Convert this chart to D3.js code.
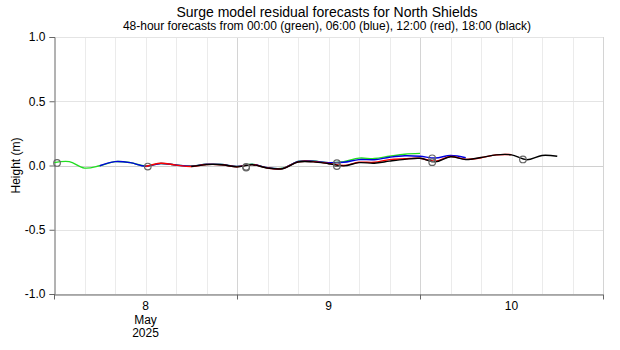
<!DOCTYPE html>
<html>
<head>
<meta charset="utf-8">
<script src="https://cdn.jsdelivr.net/npm/d3@7"></script>
<style>
  body { margin: 0; background: #fff; }
  #chart { width: 620px; height: 350px; }
  text { font-family: "Liberation Sans", Arial, sans-serif; fill: #000; }
</style>
</head>
<body>
<div id="chart"></div>
<script>
// forecast values every 2 hours, hours counted from 8 May 2025 00:00 UTC
const hoursGreen = d3.range(0, 49, 2);
const green = [0.022, 0.030, -0.020, -0.002, 0.030, 0.022, -0.004, 0.016, 0.004, -0.004, 0.010, 0.008, -0.008,
  0.010, -0.018, -0.021, 0.031, 0.035, 0.022, 0.030, 0.057, 0.054, 0.072, 0.088, 0.094];

const hoursBlue = d3.range(6, 55, 2);
const blue = [-0.002, 0.030, 0.022, -0.006, 0.016, 0.004, -0.005, 0.010, 0.008, -0.008, 0.009, -0.018, -0.022,
  0.031, 0.034, 0.022, 0.025, 0.046, 0.045, 0.064, 0.076, 0.072, 0.058, 0.078, 0.060];

const hoursRed = d3.range(12, 61, 2);
const red = [-0.008, 0.017, 0.003, -0.008, 0.008, 0.006, -0.010, 0.007, -0.020, -0.024, 0.028, 0.030, 0.016,
  0.000, 0.025, 0.025, 0.046, 0.052, 0.056, 0.034, 0.070, 0.048, 0.060, 0.083, 0.085];

const hoursBlack = d3.range(18, 67, 2);
const black = [-0.008, 0.007, 0.006, -0.011, 0.006, -0.020, -0.025, 0.027, 0.028, 0.014, -0.003, 0.022, 0.018,
  0.034, 0.048, 0.056, 0.028, 0.068, 0.047, 0.062, 0.083, 0.083, 0.045, 0.078, 0.072];

// high water markers: hour, value
const markerHours = [0.4, 12.3, 25.2, 25.2, 37.1, 37.1, 49.6, 49.6, 61.5];
const markerValues = [0.020, -0.008, -0.016, -0.010, 0.018, -0.004, 0.056, 0.026, 0.047];

const yTicks = [-1, -0.5, 0, 0.5, 1];
const dayLabels = [["8", "May", "2025"], ["9"], ["10"]];

const width = 620;
const height = 350;
const margin = {top: 37, left: 54, right: 17, bottom: 56};

const t0 = Date.UTC(2025, 4, 8);
const toDate = h => new Date(t0 + h * 3600e3);

const svg = d3.select("#chart")
  .append("svg")
  .attr("width", width)
  .attr("height", height);

const xScale = d3.scaleUtc()
  .domain([toDate(0), toDate(72)])
  .range([margin.left, width - margin.right]);

const yScale = d3.scaleLinear()
  .domain([-1, 1])
  .range([height - margin.bottom, margin.top]);

// grid
svg.append("g")
  .selectAll("line")
  .data(d3.utcHour.every(4).range(toDate(4), toDate(72.1)))
  .join("line")
    .attr("x1", d => Math.round(xScale(d)) + 0.5)
    .attr("x2", d => Math.round(xScale(d)) + 0.5)
    .attr("y1", yScale(1))
    .attr("y2", yScale(-1))
    .attr("stroke", d => d.getUTCHours() === 0 ? "#d4d4d4" : "#ebebeb");

svg.append("g")
  .selectAll("line")
  .data(yTicks)
  .join("line")
    .attr("x1", margin.left)
    .attr("x2", width - margin.right)
    .attr("y1", d => Math.round(yScale(d)) + 0.5)
    .attr("y2", d => Math.round(yScale(d)) + 0.5)
    .attr("stroke", d => d === 0 ? "#d0d0d0" : "#e4e4e4");

// axes
const yAxis = svg.append("g")
  .attr("transform", `translate(${margin.left + 0.5},0)`)
  .call(d3.axisLeft(yScale).tickValues(yTicks).tickSize(5).tickFormat(d => d3.format(".1f")(d).replace("−", "-")));
yAxis.selectAll("path, line").attr("stroke", "#666");
yAxis.selectAll("text").style("font-size", "12px").attr("font-family", null).attr("dx", "-1");

const xAxis = svg.append("g")
  .attr("transform", `translate(0,${Math.round(yScale(-1)) + 0.5})`)
  .call(d3.axisBottom(xScale).tickValues([toDate(0), toDate(24), toDate(48), toDate(72)]).tickSize(5).tickSizeOuter(0).tickFormat(""));
xAxis.selectAll("path, line").attr("stroke", "#666");

const labels = svg.append("g")
  .selectAll("text")
  .data(dayLabels)
  .join("text")
    .attr("x", (d, i) => xScale(toDate(12 + 24 * i)))
    .attr("y", yScale(-1) + 16)
    .attr("text-anchor", "middle")
    .style("font-size", "12px");
labels.selectAll("tspan")
  .data(d => d)
  .join("tspan")
    .attr("x", function() { return this.parentNode.getAttribute("x"); })
    .attr("dy", (d, i) => i === 0 ? 0 : 13.5)
    .text(d => d);

// titles
svg.append("text")
  .attr("x", 327).attr("y", 17)
  .attr("text-anchor", "middle")
  .style("font-size", "14px")
  .text("Surge model residual forecasts for North Shields");
svg.append("text")
  .attr("x", 327).attr("y", 30)
  .attr("text-anchor", "middle")
  .style("font-size", "12px")
  .text("48-hour forecasts from 00:00 (green), 06:00 (blue), 12:00 (red), 18:00 (black)");
svg.append("text")
  .attr("transform", `translate(20,${yScale(0)}) rotate(-90)`)
  .attr("text-anchor", "middle")
  .style("font-size", "12px")
  .text("Height (m)");

// forecast lines
const line = d3.line()
  .x(d => xScale(toDate(d[0])))
  .y(d => yScale(d[1]))
  .curve(d3.curveCatmullRom);

const series = [
  {hours: hoursGreen, values: green, color: "#22dd22"},
  {hours: hoursBlue, values: blue, color: "#0000dd"},
  {hours: hoursRed, values: red, color: "#ff0000"},
  {hours: hoursBlack, values: black, color: "#000000"}
];

svg.append("g")
  .selectAll("path")
  .data(series)
  .join("path")
    .attr("d", s => line(s.hours.map((h, i) => [h, s.values[i]])))
    .attr("fill", "none")
    .attr("stroke", s => s.color)
    .attr("stroke-width", 1.4);

svg.append("g")
  .selectAll("circle")
  .data(markerHours.map((h, i) => [h, markerValues[i]]))
  .join("circle")
    .attr("cx", d => xScale(toDate(d[0])))
    .attr("cy", d => yScale(d[1]))
    .attr("r", 3.3)
    .attr("fill", "none")
    .attr("stroke", "#666")
    .attr("stroke-width", 1.2);
</script>
</body>
</html>
